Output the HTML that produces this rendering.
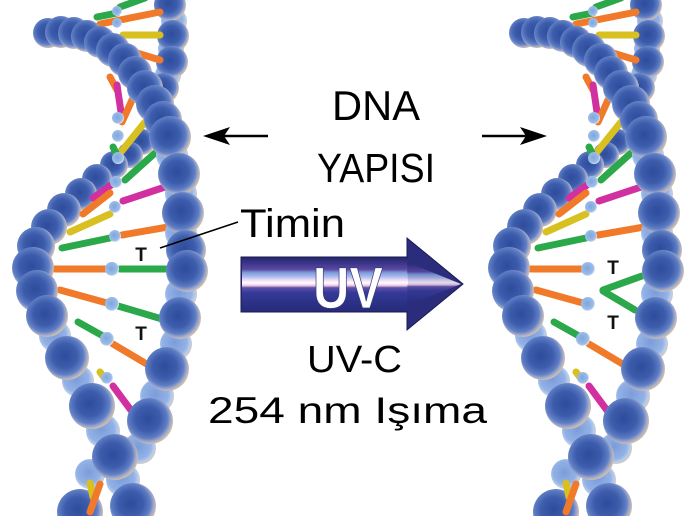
<!DOCTYPE html>
<html><head><meta charset="utf-8"><style>
html,body{margin:0;padding:0;background:#fff;}
svg{display:block;}
</style></head><body>
<svg width="700" height="516" viewBox="0 0 700 516" xmlns="http://www.w3.org/2000/svg">
<defs>
<radialGradient id="gb" cx="45%" cy="45%" r="55%">
<stop offset="0" stop-color="#2f4c9c"/>
<stop offset="0.5" stop-color="#3d5cac"/>
<stop offset="0.78" stop-color="#5f7ec4"/>
<stop offset="0.9" stop-color="#9aa6cc"/>
<stop offset="1" stop-color="#cdbdae"/>
</radialGradient>
<radialGradient id="gl" cx="45%" cy="45%" r="55%">
<stop offset="0" stop-color="#7b9cda"/>
<stop offset="0.7" stop-color="#92b2e6"/>
<stop offset="0.9" stop-color="#b8cdee"/>
<stop offset="1" stop-color="#d0c8c0"/>
</radialGradient>
<radialGradient id="gn" cx="45%" cy="45%" r="55%">
<stop offset="0" stop-color="#7ea6dc"/>
<stop offset="0.8" stop-color="#9cbce8"/>
<stop offset="1" stop-color="#e0ecf8"/>
</radialGradient>
<linearGradient id="uvg" x1="0" y1="0" x2="0" y2="1">
<stop offset="0" stop-color="#26286a"/>
<stop offset="0.1" stop-color="#3a3488"/>
<stop offset="0.22" stop-color="#5a48a0"/>
<stop offset="0.28" stop-color="#7f9ad8"/>
<stop offset="0.36" stop-color="#a8c0f0"/>
<stop offset="0.40" stop-color="#e8d0f0"/>
<stop offset="0.47" stop-color="#ffffff"/>
<stop offset="0.52" stop-color="#f0c8e0"/>
<stop offset="0.56" stop-color="#6050a8"/>
<stop offset="0.65" stop-color="#343a98"/>
<stop offset="1" stop-color="#262a78"/>
</linearGradient>

<g id="h1">
  <!-- strand A tail (behind B) -->
  <circle cx="140" cy="448" r="16" fill="url(#gl)"/>
  <circle cx="90" cy="474" r="15" fill="url(#gl)"/>
  <circle cx="80" cy="512" r="23" fill="url(#gb)"/>
  <!-- strand B upper (back) -->
  <circle cx="174" cy="21" r="13" fill="url(#gl)"/>
  <circle cx="171" cy="49" r="13" fill="url(#gl)"/>
  <circle cx="168" cy="75" r="13" fill="url(#gl)"/>
  <circle cx="170" cy="5" r="16" fill="url(#gb)"/>
  <circle cx="173" cy="36" r="16" fill="url(#gb)"/>
  <circle cx="172" cy="62" r="16" fill="url(#gb)"/>
  <circle cx="164" cy="88" r="15" fill="url(#gb)"/>
  <circle cx="142" cy="142" r="13" fill="url(#gb)"/>
  <circle cx="130" cy="155" r="13" fill="url(#gb)"/>
  <circle cx="114" cy="165" r="14" fill="url(#gb)"/>
  <circle cx="97" cy="179" r="15" fill="url(#gb)"/>
  <circle cx="81" cy="194" r="16" fill="url(#gb)"/>
  <circle cx="64" cy="210" r="17" fill="url(#gb)"/>
  <circle cx="49" cy="227" r="18" fill="url(#gb)"/>
  <circle cx="36" cy="246" r="19" fill="url(#gb)"/>
  <!-- rungs -->
  <g stroke-width="7" stroke-linecap="round" fill="none">
    <line x1="120" y1="7" x2="145" y2="-2" stroke="#2aa84a"/>
    <line x1="97" y1="17" x2="117" y2="13" stroke="#2aa84a"/>
    <line x1="100" y1="24" x2="160" y2="12" stroke="#f07a2a"/>
    <line x1="123" y1="35" x2="160" y2="35" stroke="#d8c020"/>
    <line x1="137" y1="53" x2="160" y2="60" stroke="#f07a2a"/>
    <line x1="110" y1="77" x2="117" y2="90" stroke="#f07a2a"/>
    <line x1="117" y1="85" x2="121" y2="112" stroke="#d030a0"/>
    <line x1="122" y1="122" x2="132" y2="100" stroke="#f07a2a"/>
    <line x1="121" y1="152" x2="145" y2="122" stroke="#d8c020"/>
    <line x1="113" y1="147" x2="118" y2="157" stroke="#2aa84a"/>
    <line x1="125" y1="180" x2="155" y2="153" stroke="#2aa84a"/>
    <line x1="93" y1="198" x2="114" y2="183" stroke="#d030a0"/>
    <line x1="123" y1="201" x2="165" y2="187" stroke="#d030a0"/>
    <line x1="83" y1="214" x2="110" y2="193" stroke="#f07a2a"/>
    <line x1="70" y1="232" x2="110" y2="214" stroke="#d8c020"/>
    <line x1="62" y1="248" x2="110" y2="238" stroke="#2aa84a"/>
    <line x1="122" y1="235" x2="168" y2="227" stroke="#f07a2a"/>
    <line x1="55" y1="269" x2="107" y2="269" stroke="#f07a2a"/>
    <line x1="60" y1="290" x2="107" y2="303" stroke="#f07a2a"/>
    <line x1="78" y1="322" x2="103" y2="336" stroke="#2aa84a"/>
    <line x1="113" y1="344" x2="150" y2="366" stroke="#f07a2a"/>
    <line x1="100" y1="372" x2="106" y2="380" stroke="#d8c020"/>
    <line x1="113" y1="386" x2="133" y2="413" stroke="#d030a0"/>
    <line x1="90" y1="483" x2="93" y2="497" stroke="#d8c020"/>
    <line x1="100" y1="484" x2="90" y2="512" stroke="#f07a2a"/>
  </g>
  <g fill="url(#gn)">
    <circle cx="117" cy="11" r="5"/>
    <circle cx="117" cy="23" r="5"/>
    <circle cx="118" cy="118" r="6"/>
    <circle cx="118" cy="136" r="6"/>
    <circle cx="118" cy="158" r="6"/>
    <circle cx="116" cy="182" r="6"/>
    <circle cx="115" cy="207" r="6"/>
    <circle cx="115" cy="236" r="6"/>
    <circle cx="112" cy="269" r="7"/>
    <circle cx="112" cy="304" r="7"/>
    <circle cx="107" cy="339" r="7"/>
    <circle cx="107" cy="378" r="6"/>
  </g>
</g>

<g id="h2">
  <!-- strand A main -->
  <circle cx="172" cy="155" r="16" fill="url(#gl)"/>
  <circle cx="181" cy="194" r="16" fill="url(#gl)"/>
  <circle cx="181" cy="233" r="16" fill="url(#gl)"/>
  <circle cx="181" cy="294" r="16" fill="url(#gl)"/>
  <circle cx="176" cy="344" r="16" fill="url(#gl)"/>
  <circle cx="157" cy="396" r="17" fill="url(#gl)"/>
  <circle cx="48" cy="33" r="15" fill="url(#gb)"/>
  <circle cx="61" cy="32" r="16" fill="url(#gb)"/>
  <circle cx="74" cy="33" r="16" fill="url(#gb)"/>
  <circle cx="87" cy="36" r="16" fill="url(#gb)"/>
  <circle cx="100" cy="42" r="16" fill="url(#gb)"/>
  <circle cx="113" cy="50" r="17" fill="url(#gb)"/>
  <circle cx="125" cy="60" r="17" fill="url(#gb)"/>
  <circle cx="135" cy="73" r="17" fill="url(#gb)"/>
  <circle cx="145" cy="88" r="18" fill="url(#gb)"/>
  <circle cx="155" cy="104" r="19" fill="url(#gb)"/>
  <circle cx="163" cy="120" r="19" fill="url(#gb)"/>
  <circle cx="170" cy="137" r="21" fill="url(#gb)"/>
  <circle cx="179" cy="174" r="21" fill="url(#gb)"/>
  <circle cx="183" cy="213" r="21" fill="url(#gb)"/>
  <circle cx="186" cy="250" r="20" fill="url(#gb)"/>
  <circle cx="187" cy="271" r="21" fill="url(#gb)"/>
  <circle cx="180" cy="318" r="21" fill="url(#gb)"/>
  <circle cx="167" cy="369" r="22" fill="url(#gb)"/>
  <circle cx="150" cy="421" r="23" fill="url(#gb)"/>
  <!-- strand B lower (front) -->
  <circle cx="55" cy="336" r="16" fill="url(#gl)"/>
  <circle cx="78" cy="381" r="16" fill="url(#gl)"/>
  <circle cx="103" cy="431" r="17" fill="url(#gl)"/>
  <circle cx="123" cy="480" r="17" fill="url(#gl)"/>
  <circle cx="33" cy="268" r="21" fill="url(#gb)"/>
  <circle cx="37" cy="291" r="21" fill="url(#gb)"/>
  <circle cx="47" cy="316" r="21" fill="url(#gb)"/>
  <circle cx="67" cy="358" r="22" fill="url(#gb)"/>
  <circle cx="92" cy="406" r="23" fill="url(#gb)"/>
  <circle cx="115" cy="457" r="23" fill="url(#gb)"/>
  <circle cx="133" cy="506" r="23" fill="url(#gb)"/>
</g>
</defs>

<rect width="700" height="516" fill="#fff"/>

<use href="#h1"/>
<g stroke-width="7" stroke-linecap="round">
  <line x1="120" y1="269" x2="170" y2="269" stroke="#2aa84a"/>
  <line x1="118" y1="306" x2="162" y2="319" stroke="#2aa84a"/>
</g>
<circle cx="112" cy="269" r="7" fill="url(#gn)"/>
<circle cx="112" cy="304" r="7" fill="url(#gn)"/>
<use href="#h2"/>

<use href="#h1" x="476"/>
<g stroke-width="7" stroke-linecap="round" stroke="#2aa84a">
  <line x1="642" y1="276" x2="603" y2="290"/>
  <line x1="603" y1="291" x2="635" y2="310"/>
</g>
<use href="#h2" x="476"/>

<g font-family="Liberation Sans, sans-serif" font-weight="bold" font-size="19" fill="#111" text-anchor="middle">
  <text x="141" y="261">T</text>
  <text x="141" y="340">T</text>
  <text x="613" y="274">T</text>
  <text x="613" y="329">T</text>
</g>

<line x1="268" y1="136" x2="220" y2="136" stroke="#000" stroke-width="2.5"/>
<polygon points="203,136 230,127 224,136 230,145" fill="#000"/>
<line x1="482" y1="136" x2="530" y2="136" stroke="#000" stroke-width="2.5"/>
<polygon points="547,136 520,127 526,136 520,145" fill="#000"/>

<line x1="160" y1="248" x2="238" y2="222" stroke="#000" stroke-width="1.5"/>

<g font-family="Liberation Sans, sans-serif" fill="#000">
  <text x="332" y="120" font-size="42" textLength="88" lengthAdjust="spacingAndGlyphs">DNA</text>
  <text x="317" y="182" font-size="41" textLength="118" lengthAdjust="spacingAndGlyphs">YAPISI</text>
  <text x="240" y="237" font-size="40" textLength="105" lengthAdjust="spacingAndGlyphs">Timin</text>
  <text x="307" y="372" font-size="38" textLength="95" lengthAdjust="spacingAndGlyphs">UV-C</text>
  <text x="208" y="423" font-size="37" textLength="279" lengthAdjust="spacingAndGlyphs">254 nm Işıma</text>
</g>

<polygon points="241,257 407,257 407,238 463,284 407,330 407,312 241,312" fill="#2b2d7c" stroke="#1a1a50" stroke-width="1"/>
<rect x="242" y="257.5" width="166" height="54" fill="url(#uvg)"/>
<polygon points="407,262 461,284 407,306" fill="url(#uvg)" opacity="0.85"/>
<text x="313" y="308" font-family="Liberation Sans, sans-serif" font-weight="bold" font-size="58" fill="#fff" stroke="#3a3a80" stroke-width="0.8" textLength="70" lengthAdjust="spacingAndGlyphs">UV</text>
</svg>
</body></html>
